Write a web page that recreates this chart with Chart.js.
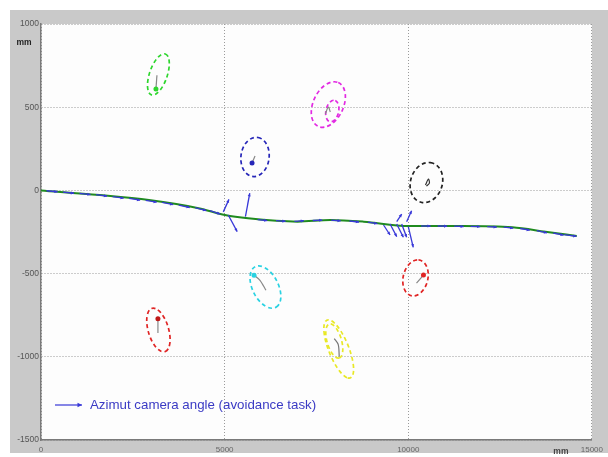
<!DOCTYPE html>
<html>
<head>
<meta charset="utf-8">
<script src="https://cdn.jsdelivr.net/npm/chart.js@4.4.1/dist/chart.umd.min.js"></script>
<style>
  html, body { margin: 0; padding: 0; background: #ffffff; }
  #wrap { width: 608px; height: 457px; }
</style>
</head>
<body>
<div id="wrap"><canvas id="c" width="608" height="457"></canvas></div>
<script>
// Robot trajectory (mm)
const trajX = [0, 1592, 2941, 4290, 5010, 5639, 6988, 7878, 8788, 10001, 11486, 12835, 13733, 14588];
const trajY = [0, -28, -58, -107, -148, -168, -188, -178, -188, -214, -214, -222, -248, -274];

// Azimut camera angle arrows: tail position and vector (mm)
const azX  = [150, 600, 1050, 1500, 1950, 2400, 2850, 3300, 3750, 4200, 4600, 4964, 5099, 5566, 5900, 6400, 6900, 7400, 7900, 8400, 8900, 9327, 9505, 9686, 9821, 9686, 9956, 10001, 10350, 10800, 11250, 11700, 12150, 12600, 13050, 13500, 13950, 14250];
const azY  = [-2, -10, -18, -26, -37, -48, -60, -72, -88, -104, -122, -129, -148, -158, -176, -182, -186, -181, -179, -184, -190, -208, -202, -202, -202, -188, -188, -218, -214, -214, -215, -216, -218, -221, -229, -242, -256, -266];
const azDX = [300, 300, 300, 300, 300, 300, 300, 300, 300, 300, 280, 154, 243, 119, 260, 260, 260, 260, 260, 260, 260, 178, 181, 181, 135, 135, 135, 135, 260, 260, 260, 260, 260, 260, 260, 280, 280, 330];
const azDY = [-6, -7, -7, -9, -10, -11, -11, -14, -15, -17, -20, 75, -100, 141, -6, -4, 4, 2, -4, -6, -10, -60, -76, -80, -80, 46, 66, -124, 0, -1, -2, -2, -3, -6, -10, -13, -13, -10];

// Landmark uncertainty ellipses: centre and two half-axis vectors (mm)
const ellColor = ['#2ed62e', '#2626b8', '#e22ae2', '#e22ae2', '#222222', '#e02424', '#2ad2e2', '#e02424', '#e8e826', '#e8e826'];
const ellCX = [3197, 5828, 7824, 7932, 10495, 10198, 6111, 3197, 8107, 7986];
const ellCY = [697, 201, 516, 477, 47, -526, -581, -839, -953, -905];
const ellAX = [189, 81, 270, 81, 108, 81, 297, 189, 243, 135];
const ellAY = [123, 117, 132, 63, 120, 108, -120, -129, -174, -102];
const ellBX = [229, 378, 378, 162, 432, 337, 297, 256, 324, 189];
const ellBY = [-17, -15, -36, -15, -12, -6, 42, 24, -22, 12];

// Landmark estimate traces (mm)
const traceX = [[3157, 3130], [5828, 5747], [7743, 7824, 7878], [10468, 10549, 10576, 10495], [10225, 10414], [6125, 5963, 5801], [3184, 3184], [7986, 8094, 8121]];
const traceY = [[692, 609], [207, 165], [459, 501, 471], [32, 68, 44, 26], [-557, -509], [-600, -540, -510], [-857, -778], [-891, -927, -999]];
const traceColor = ['#888888', '#888888', '#888888', '#333333', '#888888', '#888888', '#888888', '#777777'];

// Last estimate of each landmark (mm)
const tipX = [3130, 5747, 10414, 5801, 3184];
const tipY = [609, 165, -509, -510, -772];
const tipColor = ['#2ed62e', '#2626b8', '#e02424', '#2ad2e2', '#c01818'];

const xTicks = [0, 5000, 10000, 15000];
const yTicks = [-1500, -1000, -500, 0, 500, 1000];
const legendText = 'Azimut camera angle (avoidance task)';
const unitText = 'mm';

const FONT = 'Arial, "Liberation Sans", sans-serif';
const BLUE = '#3838d8';

function drawArrow(ctx, x1, y1, x2, y2, head) {
  ctx.beginPath();
  ctx.moveTo(x1, y1);
  ctx.lineTo(x2, y2);
  ctx.stroke();
  const a = Math.atan2(y2 - y1, x2 - x1);
  ctx.beginPath();
  ctx.moveTo(x2, y2);
  ctx.lineTo(x2 - head * Math.cos(a - 0.45), y2 - head * Math.sin(a - 0.45));
  ctx.lineTo(x2 - head * Math.cos(a + 0.45), y2 - head * Math.sin(a + 0.45));
  ctx.closePath();
  ctx.fill();
}

const framePlugin = {
  id: 'frame',
  beforeDraw(chart) {
    const ctx = chart.ctx, a = chart.chartArea;
    ctx.save();
    ctx.fillStyle = '#ffffff';
    ctx.fillRect(0, 0, chart.width, chart.height);
    ctx.fillStyle = '#c9c9c9';
    ctx.fillRect(10, 10, chart.width - 10, chart.height - 14);
    ctx.fillStyle = '#fdfdfd';
    ctx.fillRect(a.left, a.top, a.right - a.left, a.bottom - a.top);
    ctx.restore();
  }
};

const marksPlugin = {
  id: 'marks',
  beforeDatasetsDraw(chart) {
    const ctx = chart.ctx, xs = chart.scales.x, ys = chart.scales.y;
    ctx.save();
    // uncertainty ellipses
    ctx.lineWidth = 1.7;
    ctx.setLineDash([4, 3]);
    for (let i = 0; i < ellCX.length; i++) {
      const cx = xs.getPixelForValue(ellCX[i]);
      const cy = ys.getPixelForValue(ellCY[i]);
      const ax = xs.getPixelForValue(ellCX[i] + ellAX[i]) - cx;
      const ay = ys.getPixelForValue(ellCY[i] + ellAY[i]) - cy;
      const bx = xs.getPixelForValue(ellCX[i] + ellBX[i]) - cx;
      const by = ys.getPixelForValue(ellCY[i] + ellBY[i]) - cy;
      const m = ctx.getTransform();
      ctx.beginPath();
      ctx.transform(ax, ay, bx, by, cx, cy);
      ctx.arc(0, 0, 1, 0, Math.PI * 2);
      ctx.setTransform(m);
      ctx.strokeStyle = ellColor[i];
      ctx.stroke();
    }
    ctx.restore();
  },
  afterDatasetsDraw(chart) {
    const ctx = chart.ctx, xs = chart.scales.x, ys = chart.scales.y;
    ctx.save();
    // azimut arrows on top of the trajectory
    ctx.strokeStyle = BLUE;
    ctx.fillStyle = BLUE;
    ctx.lineWidth = 1.3;
    for (let i = 0; i < azX.length; i++) {
      const x1 = xs.getPixelForValue(azX[i]);
      const y1 = ys.getPixelForValue(azY[i]);
      const x2 = xs.getPixelForValue(azX[i] + azDX[i]);
      const y2 = ys.getPixelForValue(azY[i] + azDY[i]);
      drawArrow(ctx, x1, y1, x2, y2, 3.5);
    }
    ctx.restore();
  },
  afterDraw(chart) {
    const ctx = chart.ctx, a = chart.chartArea;
    ctx.save();
    // unit labels
    ctx.fillStyle = '#222222';
    ctx.font = 'bold 8.5px ' + FONT;
    ctx.textAlign = 'center';
    ctx.textBaseline = 'middle';
    ctx.fillText(unitText, a.left - 17, a.top + 19);
    ctx.fillStyle = '#444444';
    ctx.fillText(unitText, a.right - 31, a.bottom + 12);
    // legend
    const ly = a.bottom - 35;
    ctx.strokeStyle = BLUE;
    ctx.fillStyle = BLUE;
    ctx.lineWidth = 1.2;
    drawArrow(ctx, a.left + 14, ly, a.left + 41, ly, 5);
    ctx.fillStyle = '#3a3ac4';
    ctx.font = '13.3px ' + FONT;
    ctx.textAlign = 'left';
    ctx.fillText(legendText, a.left + 49, ly + 0.5);
    ctx.restore();
  }
};

const datasets = [
  {
    type: 'line',
    data: trajX.map((x, i) => ({ x: x, y: trajY[i] })),
    borderColor: '#1f8a1f',
    borderWidth: 2,
    pointRadius: 0,
    cubicInterpolationMode: 'monotone',
    fill: false
  },
  {
    type: 'scatter',
    data: tipX.map((x, i) => ({ x: x, y: tipY[i] })),
    pointRadius: 2.5,
    pointBackgroundColor: tipColor,
    pointBorderColor: tipColor,
    pointBorderWidth: 0
  }
];
traceX.forEach((tx, k) => {
  datasets.push({
    type: 'line',
    data: tx.map((x, i) => ({ x: x, y: traceY[k][i] })),
    borderColor: traceColor[k],
    borderWidth: 1.2,
    pointRadius: 0,
    tension: 0.3,
    fill: false
  });
});

const plainLabel = v => String(v);

new Chart(document.getElementById('c'), {
  type: 'scatter',
  data: { datasets: datasets },
  options: {
    responsive: false,
    animation: false,
    devicePixelRatio: 1,
    layout: { padding: { top: 24, right: 11, left: 0, bottom: 0 } },
    plugins: { legend: { display: false }, tooltip: { enabled: false } },
    scales: {
      x: {
        type: 'linear',
        min: 0, max: 15000,
        afterBuildTicks(scale) { scale.ticks = xTicks.map(v => ({ value: v })); },
        afterFit(scale) { scale.height = 17; },
        ticks: { color: '#666666', font: { family: FONT, size: 8 }, padding: 5, maxRotation: 0, autoSkip: false, callback: plainLabel },
        grid: { color: '#9a9a9a', lineWidth: 1, drawTicks: false },
        border: { display: true, color: '#7a7a7a', width: 1.5, dash: [1, 2] }
      },
      y: {
        type: 'linear',
        min: -1500, max: 1000,
        afterBuildTicks(scale) { scale.ticks = yTicks.map(v => ({ value: v })); },
        afterFit(scale) { scale.width = 41; },
        ticks: { color: '#555555', font: { family: FONT, size: 8.5 }, padding: 2, autoSkip: false, callback: plainLabel },
        grid: { color: '#9a9a9a', lineWidth: 1, drawTicks: false },
        border: { display: true, color: '#7a7a7a', width: 1.5, dash: [1, 2] }
      }
    }
  },
  plugins: [framePlugin, marksPlugin]
});
</script>
</body>
</html>
